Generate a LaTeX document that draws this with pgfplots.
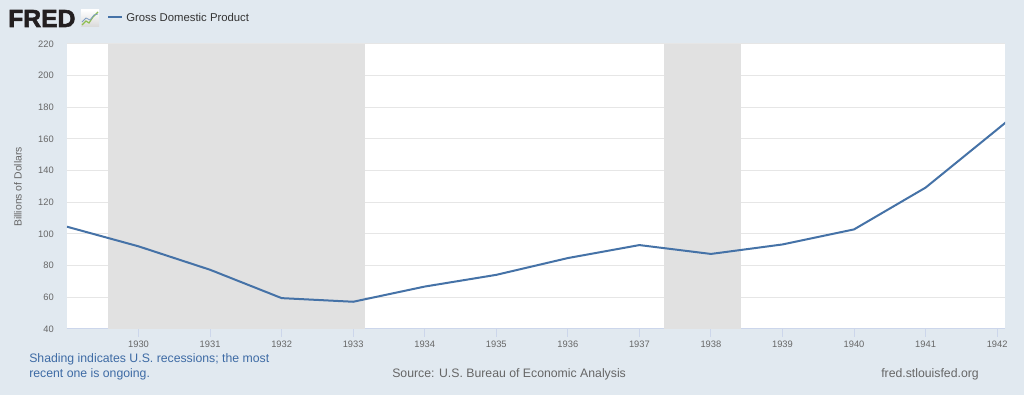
\documentclass[border=0pt]{standalone}
\usepackage{pgfplots}
\pgfplotsset{compat=1.18}
\usepackage{fontspec}
\setmainfont{Liberation Sans}
\newfontfamily\logofont[FakeBold=2.2]{Liberation Sans Bold}
\definecolor{bgc}{HTML}{E1E9F0}
\definecolor{gridc}{HTML}{E6E6E6}
\definecolor{recc}{HTML}{E1E1E1}
\definecolor{linec}{HTML}{4572A7}
\definecolor{tickc}{HTML}{666666}
\definecolor{axisc}{HTML}{CCD6EB}
\definecolor{footblue}{HTML}{3E6BA5}
\definecolor{footgray}{HTML}{666666}
\definecolor{legc}{HTML}{333333}
\definecolor{logogreen}{HTML}{8DBE4F}
\definecolor{logoblack}{HTML}{231F20}
\pgfplotstableread{
year gdp
1929 104.6
1930 92.2
1931 77.4
1932 59.5
1933 57.2
1934 66.8
1935 74.2
1936 84.8
1937 93.0
1938 87.4
1939 93.4
1940 102.9
1941 129.3
1942 166.0
1943 203.1
}\gdpdata
\begin{document}
\begin{tikzpicture}[x=0.75pt,y=0.75pt]
\fill[bgc] (0,0) rectangle (1024,395);
\begin{axis}[
  at={(50.25pt,49.5pt)}, anchor=south west,
  scale only axis, width=703.5pt, height=213.75pt,
  xmin=1929, xmax=1942.11, ymin=40, ymax=220,
  xtick={1930,1931,...,1942}, ytick={40,60,...,220},
  /pgf/number format/assume math mode=true,
  xticklabel style={/pgf/number format/1000 sep=, font=\fontsize{7}{8}\selectfont, text=tickc, inner sep=0pt, yshift=-2.8pt},
  yticklabel style={font=\fontsize{7}{8}\selectfont, text=tickc, inner sep=0pt, xshift=-3.75pt},
  axis background/.style={fill=white},
  ymajorgrids, grid style={gridc, line width=0.75pt},
  axis x line*=bottom, axis y line*=left,
  x axis line style={axisc, line width=0.75pt, -},
  y axis line style={draw=none},
  tick align=outside, major tick length=6pt,
  xtick style={axisc, line width=0.75pt},
  ytick style={draw=none},
  clip=true,
]
\fill[recc] (axis cs:1929.57,40) rectangle (axis cs:1933.16,220);
\fill[recc] (axis cs:1937.35,40) rectangle (axis cs:1938.42,220);
\addplot[linec, line width=1.5pt, line join=round] table[x=year, y=gdp] {\gdpdata};
\end{axis}
% y label
\node[rotate=90, font=\fontsize{7.8}{9}\selectfont, text=tickc] at (18,208) {Billions of Dollars};
% logo
\node[anchor=base west, inner sep=0pt, font=\fontsize{18.5}{19}\logofont, text=logoblack] at (8,368) {FRED};
\shade[top color=white, bottom color=black!15] (81,368) rectangle (99,385);
\draw[logogreen, line width=0.9pt] (82,370)--(86,374)--(89,372)--(93,378)--(98,383);
\draw[linec!70, line width=0.6pt] (82,373)--(86,377)--(90,375)--(94,380)--(98,381);
% legend
\draw[linec, line width=1.5pt] (108,378)--(122,378);
\node[anchor=west, inner sep=0pt, font=\fontsize{8.5}{10}\selectfont, text=legc] at (126,378) {Gross Domestic Product};
% footer
\node[anchor=base west, inner sep=0pt, font=\fontsize{9.2}{11}\selectfont, text=footblue] at (29,32) {Shading indicates U.S. recessions; the most};
\node[anchor=base west, inner sep=0pt, font=\fontsize{9.2}{11}\selectfont, text=footblue] at (29,17) {recent one is ongoing.};
\node[anchor=base west, inner sep=0pt, font=\fontsize{9.2}{11}\selectfont, text=footgray] at (392,17) {Source: U.S. Bureau of Economic Analysis};
\node[anchor=base west, inner sep=0pt, font=\fontsize{9.2}{11}\selectfont, text=footgray] at (881,17) {fred.stlouisfed.org};
\end{tikzpicture}
\end{document}
